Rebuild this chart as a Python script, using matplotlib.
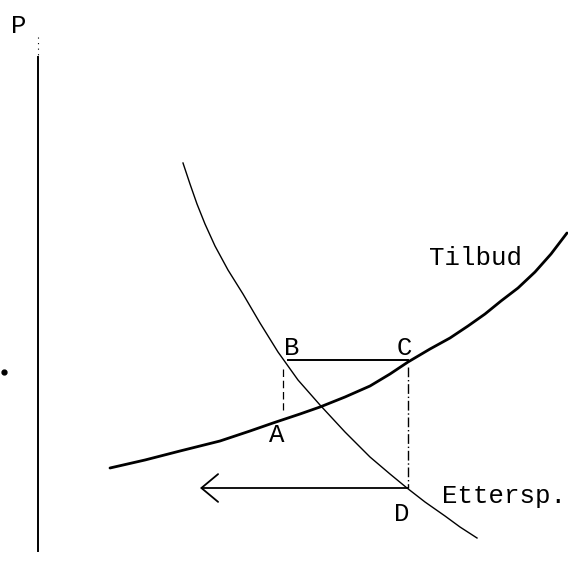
import matplotlib
matplotlib.use("Agg")
import matplotlib.pyplot as plt

# points, in picture pixels (y grows downward)
supply_x = [110, 145, 180, 220, 250, 273, 300, 320, 345, 370, 390, 408,
            430, 450, 468, 485, 501, 518, 535, 551, 567]
supply_y = [468, 460, 451, 441, 431, 423, 414, 407, 397, 386, 374, 362,
            349, 338, 326, 314, 301, 288, 272, 254, 233]

demand_x = [183, 190, 197, 205, 215, 228, 243, 260, 278, 298, 320, 345,
            370, 390, 407, 425, 445, 460, 477]
demand_y = [163, 184, 204, 224, 246, 270, 294, 323, 352, 380, 405, 432,
            457, 474, 488, 502, 516, 527, 538]

# points B, C, A, D of the adjustment box
pt_B = (283, 360)
pt_C = (408, 360)
pt_A = (283, 418)
pt_D = (408, 488)
arrow_end_x = 200

axis_x = 38
axis_top, axis_bottom = 37, 551

labels = [
    ("P", 11, 33),
    ("B", 284, 355),
    ("C", 397, 355),
    ("A", 269, 442),
    ("D", 394, 521),
    ("Tilbud", 429, 265),
    ("Ettersp.", 442, 503),
]

mono = "Liberation Mono"

fig = plt.figure(figsize=(5.68, 5.64), dpi=100)
ax = fig.add_axes([0, 0, 1, 1])
ax.set_xlim(0, 568)
ax.set_ylim(564, 0)
ax.axis("off")

# price axis
ax.plot([axis_x, axis_x], [axis_top + 20, axis_bottom], color="black", lw=1.4)
ax.plot([axis_x, axis_x], [axis_top, axis_top + 20], color="black", lw=0.8,
        linestyle=(0, (1, 4)))
ax.plot([4], [372], marker="o", color="black", markersize=3.5)

# curves
ax.plot(supply_x, supply_y, color="black", lw=2.0, solid_capstyle="round",
        solid_joinstyle="round")
ax.plot(demand_x, demand_y, color="black", lw=1.0, solid_joinstyle="round")

# box
ax.plot([pt_B[0] + 5, pt_C[0]], [pt_B[1], pt_C[1]], color="black", lw=1.4)
ax.plot([pt_B[0], pt_A[0]], [pt_B[1] + 9, pt_A[1] - 8], color="black", lw=0.9,
        linestyle=(0, (6, 3)))
ax.plot([pt_C[0], pt_D[0]], [pt_C[1] + 7, pt_D[1]], color="black", lw=1.0,
        linestyle=(0, (7, 2, 1, 2)))

# arrow D -> left
ax.annotate("", xy=(arrow_end_x, pt_D[1]), xytext=(pt_D[0], pt_D[1]),
            arrowprops=dict(arrowstyle="->,head_length=0.6,head_width=0.5",
                            mutation_scale=20, lw=1.3, color="black",
                            shrinkA=0, shrinkB=0))

for txt, x, y in labels:
    ax.text(x, y, txt, family=mono, fontsize=18.5, color="black",
            ha="left", va="baseline")

fig.savefig("out.png", dpi=100, facecolor="white")
